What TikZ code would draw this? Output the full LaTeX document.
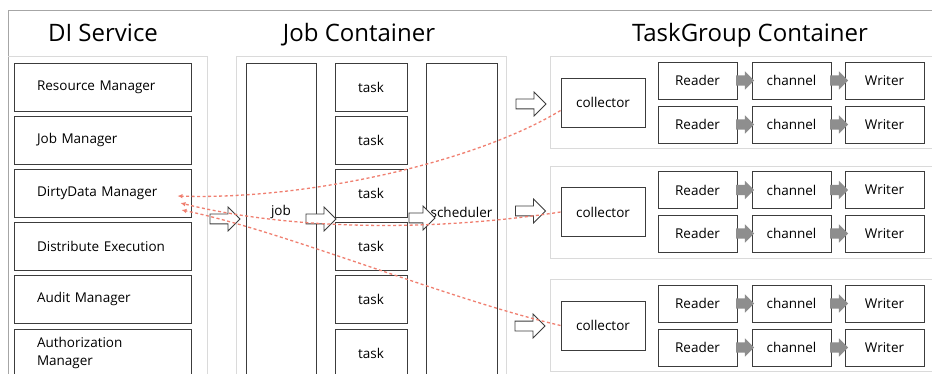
\documentclass[tikz,border=0pt]{standalone}
\usepackage{fontspec}
\setmainfont{Open Sans}
\usetikzlibrary{arrows.meta,positioning,shapes.arrows}
\definecolor{cLine}{HTML}{3C3C3C}
\definecolor{cFrame}{HTML}{A6A6A6}
\definecolor{cPanel}{HTML}{DADADA}
\definecolor{cDirty}{HTML}{F07F70}
\definecolor{cPipe}{HTML}{8E8E8E}

\begin{document}
\begin{tikzpicture}[
  x=1pt,y=-1pt,font=\fontsize{13.5}{18}\selectfont,
  box/.style={draw=cLine,line width=0.9pt,minimum width=72pt,minimum height=48pt,inner sep=0pt},
  dsv/.style={draw=cLine,line width=0.9pt,minimum height=48pt,text width=131pt,
              inner xsep=23pt,inner ysep=0pt,align=left},
  tg/.style={draw=cLine,line width=0.9pt,minimum width=79pt,minimum height=37pt,inner sep=0pt},
  col/.style={draw=cLine,line width=0.9pt,minimum height=340pt,anchor=north,inner sep=0pt},
  panel/.style={draw=cPanel,line width=0.8pt},
  outer/.style={draw=cFrame,line width=0.8pt},
  lbl/.style={font=\fontsize{24}{28}\selectfont,anchor=base},
  hol/.style={single arrow,draw=cLine,fill=white,line width=0.8pt,minimum height=30pt,
              inner xsep=0pt,inner ysep=4.5pt,single arrow head extend=7pt},
  pipe/.style={single arrow,fill=cPipe,minimum height=18pt,inner xsep=0pt,inner ysep=5pt,
               single arrow head extend=4pt},
  dirty/.style={-{Latex[length=5pt,width=4.5pt]},draw=cDirty,line width=1.3pt,
                dash pattern=on 3pt off 2.5pt}
]
\useasboundingbox (0,0) rectangle (932,374);
\clip (0,0) rectangle (932,374);
\fill[white] (0,0) rectangle (932,374);

% ---- quadros
\draw[outer] (8,380) -- (8,10) -- (940,10);
\draw[panel] (8,56) -- (207,56) -- (207,380);
\draw[panel] (236,380) -- (236,56) -- (506,56) -- (506,380);
\draw[panel] (550,56)  rectangle (940,148);
\draw[panel] (550,166) rectangle (940,258);
\draw[panel] (550,279) rectangle (940,371);

% ---- titulos
\node[lbl] (tDI)  at (103,42) {DI Service};
\node[lbl] (tJob) at (359,42) {Job Container};
\node[lbl] (tTG)  at (750,42) {TaskGroup Container};

% ---- DI Service
\node[dsv] (rm) at (102.5,87)  {Resource Manager};
\node[dsv] (jm) at (102.5,140) {Job Manager};
\node[dsv] (dd) at (102.5,193) {DirtyData Manager};
\node[dsv] (de) at (102.5,246) {Distribute Execution};
\node[dsv] (am) at (102.5,299) {Audit Manager};
\node[dsv] (au) at (102.5,353) {Authorization\\Manager};

% ---- Job Container
\node[col,minimum width=70pt] (jobc) at (281,63) {};
\node (job) at (281,212) {job};
\node[box] (t1) at (371,87)  {task};
\node[box] (t2) at (371,140) {task};
\node[box] (t3) at (371,193) {task};
\node[box] (t4) at (371,246) {task};
\node[box] (t5) at (371,299) {task};
\node[box] (t6) at (371,353) {task};
\node[col,minimum width=71pt] (schc) at (461.5,63) {};
\node (sch) at (461.5,212) {scheduler};
\node[hol] (a1) at (222.5,219) {};
\node[hol] (a2) at (318.5,219) {};
\node[hol,minimum height=26pt] (a3) at (419.5,218) {};

% ---- TaskGroup 1
\node[hol] (g1) at (528.5,104) {};
\node[box,minimum width=84pt,minimum height=49pt] (cl1) at (603,102.5) {collector};
\node[tg] (r1a) at (697.5,80.5)  {Reader};
\node[tg] (h1a) at (791.5,80.5)  {channel};
\node[tg] (w1a) at (884.5,80.5)  {Writer};
\node[tg] (r1b) at (697.5,124.5) {Reader};
\node[tg] (h1b) at (791.5,124.5) {channel};
\node[tg] (w1b) at (884.5,124.5) {Writer};
\node[pipe,right=-1.5pt of r1a] (p1a) {};
\node[pipe,right=-1.5pt of h1a] (q1a) {};
\node[pipe,right=-1.5pt of r1b] (p1b) {};
\node[pipe,right=-1.5pt of h1b] (q1b) {};

% ---- TaskGroup 2
\node[hol] (g2) at (528,211) {};
\node[box,minimum width=84pt,minimum height=49pt] (cl2) at (603,212) {collector};
\node[tg] (r2a) at (697.5,190)   {Reader};
\node[tg] (h2a) at (791.5,190)   {channel};
\node[tg] (w2a) at (884.5,190)   {Writer};
\node[tg] (r2b) at (697.5,233.5) {Reader};
\node[tg] (h2b) at (791.5,233.5) {channel};
\node[tg] (w2b) at (884.5,233.5) {Writer};
\node[pipe,right=-1.5pt of r2a] (p2a) {};
\node[pipe,right=-1.5pt of h2a] (q2a) {};
\node[pipe,right=-1.5pt of r2b] (p2b) {};
\node[pipe,right=-1.5pt of h2b] (q2b) {};

% ---- TaskGroup 3
\node[hol] (g3) at (527.5,326) {};
\node[box,minimum width=84pt,minimum height=49pt] (cl3) at (603,325.5) {collector};
\node[tg] (r3a) at (697.5,303.5) {Reader};
\node[tg] (h3a) at (791.5,303.5) {channel};
\node[tg] (w3a) at (884.5,303.5) {Writer};
\node[tg] (r3b) at (697.5,347.5) {Reader};
\node[tg] (h3b) at (791.5,347.5) {channel};
\node[tg] (w3b) at (884.5,347.5) {Writer};
\node[pipe,right=-1.5pt of r3a] (p3a) {};
\node[pipe,right=-1.5pt of h3a] (q3a) {};
\node[pipe,right=-1.5pt of r3b] (p3b) {};
\node[pipe,right=-1.5pt of h3b] (q3b) {};

% ---- dirty data
\coordinate (e1) at ([xshift=-14pt,yshift=-3pt]dd.east);
\coordinate (e2) at ([xshift=-11pt,yshift=-10pt]dd.east);
\coordinate (e3) at ([xshift=-10pt,yshift=-17pt]dd.east);
\draw[dirty] ([yshift=-8pt]cl1.west) .. controls (470,165) and (300,200) .. (e1);
\draw[dirty] (cl2.west) .. controls (430,232) and (290,230) .. (e2);
\draw[dirty] (cl3.west) .. controls (450,300) and (280,230) .. (e3);
\end{tikzpicture}
\end{document}
